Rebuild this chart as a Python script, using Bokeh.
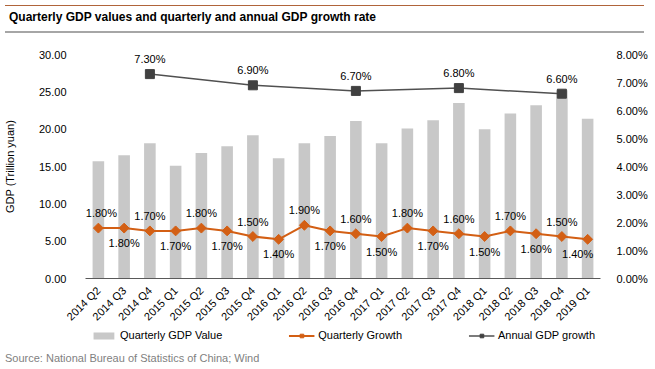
import math
from bokeh.plotting import figure
from bokeh.layouts import column
from bokeh.core.properties import value
from bokeh.models import (ColumnDataSource, LinearAxis, Range1d, FactorRange, FixedTicker,
                          PrintfTickFormatter, Legend, LegendItem, LabelSet, Div)
from bokeh.embed import file_html
from bokeh.resources import INLINE

quarters = ["2014 Q2", "2014 Q3", "2014 Q4", "2015 Q1", "2015 Q2", "2015 Q3", "2015 Q4",
            "2016 Q1", "2016 Q2", "2016 Q3", "2016 Q4", "2017 Q1", "2017 Q2", "2017 Q3",
            "2017 Q4", "2018 Q1", "2018 Q2", "2018 Q3", "2018 Q4", "2019 Q1"]
gdp_value = [15.7, 16.5, 18.1, 15.1, 16.8, 17.7, 19.2, 16.1, 18.1, 19.1,
             21.1, 18.1, 20.1, 21.2, 23.5, 20.0, 22.1, 23.2, 25.2, 21.4]
quarterly_growth = [1.8, 1.8, 1.7, 1.7, 1.8, 1.7, 1.5, 1.4, 1.9, 1.7,
                    1.6, 1.5, 1.8, 1.7, 1.6, 1.5, 1.7, 1.6, 1.5, 1.4]
annual_quarters = ["2014 Q4", "2015 Q4", "2016 Q4", "2017 Q4", "2018 Q4"]
annual_growth = [7.3, 6.9, 6.7, 6.8, 6.6]
left_ticks = [0, 5, 10, 15, 20, 25, 30]
right_ticks = [0, 1, 2, 3, 4, 5, 6, 7, 8]

TITLE = "Quarterly GDP values and quarterly and annual GDP growth rate"
SOURCE = "Source: National Bureau of Statistics of China; Wind"
LEGEND_LABELS = ["Quarterly GDP Value", "Quarterly Growth", "Annual GDP growth"]

FONT = "Liberation Sans"
W = 639
HEAD_H = 28
ML, MR, MT, MB = 77, 47, 16, 44
FW, FH = 515, 224
BAR_C, Q_C, A_C, A_LINE = "#c8c8c8", "#d35f14", "#404040", "#505050"

header = Div(text=TITLE, width=W, height=HEAD_H,
             styles={"box-sizing": "border-box", "border-top": "1.5px solid #b0643a",
                     "border-bottom": "2px solid #a6a6a6", "font-family": FONT,
                     "font-size": "12px", "font-weight": "bold", "color": "#000000",
                     "line-height": "22px", "padding-left": "4px", "white-space": "nowrap"})

p = figure(frame_width=FW, frame_height=FH, x_range=FactorRange(*quarters, range_padding=0),
           y_range=Range1d(0, 30), output_backend="svg", toolbar_location=None,
           min_border_left=ML, min_border_right=MR, min_border_top=MT, min_border_bottom=MB)
p.extra_y_ranges = {"pct": Range1d(0, 8)}
p.outline_line_color = None
p.xgrid.grid_line_color = None
p.ygrid.grid_line_color = None

n = len(quarters)
src = ColumnDataSource(dict(q=quarters, v=gdp_value, g=quarterly_growth,
                            gl=[f"{x:.2f}%" for x in quarterly_growth],
                            yoff=[15 if i % 2 == 0 else -15 for i in range(n)],
                            xoff=[3 if i == 0 else (-10 if i == n - 1 else 0) for i in range(n)]))
asrc = ColumnDataSource(dict(q=annual_quarters, g=annual_growth,
                             gl=[f"{x:.2f}%" for x in annual_growth]))

p.vbar(x="q", top="v", width=0.45, source=src, fill_color=BAR_C, line_color=None)
p.line(x="q", y="g", source=src, y_range_name="pct", line_color=Q_C, line_width=2)
p.scatter(x="q", y="g", source=src, y_range_name="pct", marker="square", angle=math.pi / 4,
          size=7, fill_color=Q_C, line_color=Q_C)
p.line(x="q", y="g", source=asrc, y_range_name="pct", line_color=A_LINE, line_width=1.5)
p.scatter(x="q", y="g", source=asrc, y_range_name="pct", marker="square", size=9,
          fill_color=A_C, line_color=A_C)

p.add_layout(LabelSet(x="q", y="g", text="gl", source=src, y_range_name="pct",
                      x_offset="xoff", y_offset="yoff",
                      text_align="center", text_baseline="middle", text_font=value(FONT),
                      text_font_size="11px", text_color="#000000"))
p.add_layout(LabelSet(x="q", y="g", text="gl", source=asrc, y_range_name="pct", y_offset=15,
                      text_align="center", text_baseline="middle", text_font=value(FONT),
                      text_font_size="11px", text_color="#000000"))

xa = p.xaxis[0]
xa.major_label_orientation = math.pi / 4
xa.major_tick_line_color = None
xa.minor_tick_line_color = None
xa.axis_line_color = "#595959"
xa.major_label_text_font = FONT
xa.major_label_text_font_size = "11px"
xa.major_label_text_color = "#000000"
xa.major_label_standoff = 4

ya = p.yaxis[0]
ya.ticker = FixedTicker(ticks=left_ticks)
ya.formatter = PrintfTickFormatter(format="%.2f")
ya.axis_line_color = None
ya.major_tick_line_color = None
ya.minor_tick_line_color = None
ya.major_label_text_font = FONT
ya.major_label_text_font_size = "11px"
ya.major_label_text_color = "#000000"
ya.major_label_standoff = 13
ya.axis_label = "GDP (Trillion yuan)"
ya.axis_label_text_font = FONT
ya.axis_label_text_font_size = "11px"
ya.axis_label_text_font_style = "normal"
ya.axis_label_text_color = "#000000"
ya.axis_label_standoff = 20

ra = LinearAxis(y_range_name="pct", ticker=FixedTicker(ticks=right_ticks),
                formatter=PrintfTickFormatter(format="%.2f%%"))
ra.axis_line_color = None
ra.major_tick_line_color = None
ra.minor_tick_line_color = None
ra.major_label_text_font = FONT
ra.major_label_text_font_size = "11px"
ra.major_label_text_color = "#000000"
ra.major_label_standoff = 10
p.add_layout(ra, "right")

# legend strip: swatch renderers share the series styles and hold no visible data
lg = figure(frame_width=FW, frame_height=12, x_range=Range1d(0, 1), y_range=Range1d(0, 1),
            output_backend="svg", toolbar_location=None, min_border_left=ML,
            min_border_right=MR, min_border_top=0, min_border_bottom=0,
            x_axis_location=None, y_axis_location=None)
lg.outline_line_color = None
lg.xgrid.grid_line_color = None
lg.ygrid.grid_line_color = None
nan = float("nan")
swatch = ColumnDataSource(dict(x=[nan], y=[nan]))
r_bar = lg.vbar(x="x", top="y", width=0.5, source=swatch, fill_color=BAR_C, line_color=None)
r_ql = lg.line(x="x", y="y", source=swatch, line_color=Q_C, line_width=2)
r_qm = lg.scatter(x="x", y="y", source=swatch, marker="square", angle=math.pi / 4, size=5,
                  fill_color=Q_C, line_color=Q_C)
r_al = lg.line(x="x", y="y", source=swatch, line_color=A_LINE, line_width=1.5)
r_am = lg.scatter(x="x", y="y", source=swatch, marker="square", size=6,
                  fill_color=A_C, line_color=A_C)
legend = Legend(items=[LegendItem(label=LEGEND_LABELS[0], renderers=[r_bar]),
                       LegendItem(label=LEGEND_LABELS[1], renderers=[r_ql, r_qm]),
                       LegendItem(label=LEGEND_LABELS[2], renderers=[r_al, r_am])],
                orientation="horizontal", location="center", spacing=66,
                glyph_width=26, glyph_height=9, label_height=12, label_standoff=4,
                padding=0, margin=0,
                label_text_font=FONT, label_text_font_size="11px", label_text_color="#000000",
                border_line_color=None, background_fill_alpha=0)
lg.add_layout(legend, "center")

source_div = Div(text=SOURCE, width=W, height=24,
                 styles={"font-family": FONT, "font-size": "11px", "color": "#7f7f7f",
                         "line-height": "24px", "white-space": "nowrap"})

layout = column(header, p, lg, source_div, spacing=0)
open("out.html", "w").write(file_html(layout, INLINE))
